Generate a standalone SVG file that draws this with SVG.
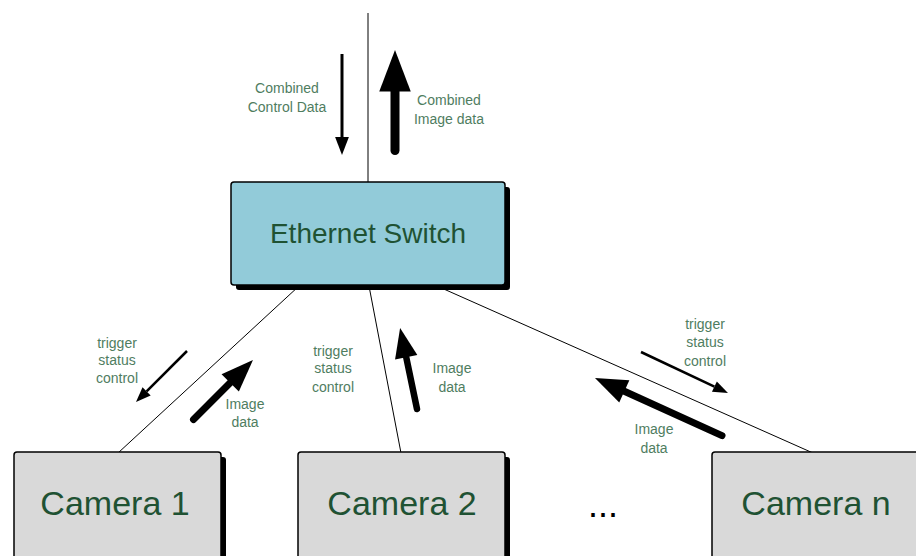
<svg xmlns="http://www.w3.org/2000/svg" width="916" height="556" viewBox="0 0 916 556">
<defs>
<style>
.box{stroke:#000;stroke-width:1.5}
.shadow{fill:#000}
.switch{fill:#92cbd9}
.cam{fill:#d9d9d9}
.big{font-family:"Liberation Sans",Arial,sans-serif;fill:#1f5233;text-anchor:middle}
.dots{font-family:"Liberation Sans",Arial,sans-serif;fill:#000;text-anchor:middle}
.lbl{font-family:"Liberation Sans",Arial,sans-serif;font-size:14px;fill:#4f7d5f;text-anchor:middle}
.conn{stroke:#000;stroke-width:1;fill:none}
.thin{stroke:#000;fill:none;marker-end:url(#headThin)}
.thick{stroke:#000;fill:none;stroke-linecap:round;marker-end:url(#headThick)}
</style>
<marker id="headThin" markerUnits="strokeWidth" orient="auto" refX="0" refY="2.3" markerWidth="6" markerHeight="4.6" overflow="visible">
<path d="M0,0 L6,2.3 L0,4.6 z" fill="#000"/>
</marker>
<marker id="headThick" markerUnits="strokeWidth" orient="auto" refX="0" refY="1.75" markerWidth="4.6" markerHeight="3.5" overflow="visible">
<path d="M0,0 L4.6,1.75 L0,3.5 z" fill="#000"/>
</marker>
</defs>

<g id="connectors">
<line class="conn" x1="368" y1="13" x2="368" y2="182" stroke="#333"/>
<line class="conn" x1="299" y1="286" x2="118" y2="453"/>
<line class="conn" x1="369" y1="286" x2="401" y2="453"/>
<line class="conn" x1="437" y1="286" x2="813" y2="453"/>
</g>

<g id="arrows">
<line class="thin" x1="342" y1="54" x2="342" y2="137" stroke-width="3"/>
<line class="thick" x1="395" y1="150.5" x2="395" y2="91.4" stroke-width="9"/>
<line class="thin" x1="187" y1="351" x2="146.6" y2="391.4" stroke-width="2.5"/>
<line class="thick" x1="193.5" y1="419.5" x2="230.2" y2="382.8" stroke-width="7"/>
<line class="thick" x1="417" y1="409" x2="406.2" y2="357.2" stroke-width="6.5"/>
<line class="thin" x1="641" y1="352" x2="714.4" y2="386.6" stroke-width="2.5"/>
<line class="thick" x1="722" y1="435.6" x2="624.3" y2="391.3" stroke-width="7"/>
</g>

<g id="labels">
<text class="lbl" x="287" y="93">Combined</text>
<text class="lbl" x="287" y="112">Control Data</text>
<text class="lbl" x="449" y="105">Combined</text>
<text class="lbl" x="449" y="124">Image data</text>
<text class="lbl" x="117" y="348">trigger</text>
<text class="lbl" x="117" y="365">status</text>
<text class="lbl" x="117" y="383">control</text>
<text class="lbl" x="245" y="409">Image</text>
<text class="lbl" x="245" y="427">data</text>
<text class="lbl" x="333" y="356">trigger</text>
<text class="lbl" x="333" y="373">status</text>
<text class="lbl" x="333" y="392">control</text>
<text class="lbl" x="452" y="373">Image</text>
<text class="lbl" x="452" y="392">data</text>
<text class="lbl" x="705" y="329">trigger</text>
<text class="lbl" x="705" y="347">status</text>
<text class="lbl" x="705" y="366">control</text>
<text class="lbl" x="654" y="434">Image</text>
<text class="lbl" x="654" y="453">data</text>
</g>

<g id="ethernet-switch">
<rect class="shadow" x="236" y="187" width="274" height="103" rx="3"/>
<rect class="box switch" x="231" y="182" width="274" height="103" rx="3"/>
<text class="big" x="368" y="243" font-size="28">Ethernet Switch</text>
</g>

<g id="camera-1">
<rect class="shadow" x="19" y="457" width="207" height="120" rx="3"/>
<rect class="box cam" x="14" y="452" width="207" height="120" rx="3"/>
<text class="big" x="115" y="515" font-size="34">Camera 1</text>
</g>

<g id="camera-2">
<rect class="shadow" x="303" y="457" width="207" height="120" rx="3"/>
<rect class="box cam" x="298" y="452" width="207" height="120" rx="3"/>
<text class="big" x="402" y="515" font-size="34">Camera 2</text>
</g>

<g id="ellipsis">
<text class="dots" x="603" y="517" font-size="36">...</text>
</g>

<g id="camera-n">
<rect class="shadow" x="717" y="457" width="207" height="120" rx="3"/>
<rect class="box cam" x="712" y="452" width="207" height="120" rx="3"/>
<text class="big" x="816" y="515" font-size="34">Camera n</text>
</g>
</svg>
